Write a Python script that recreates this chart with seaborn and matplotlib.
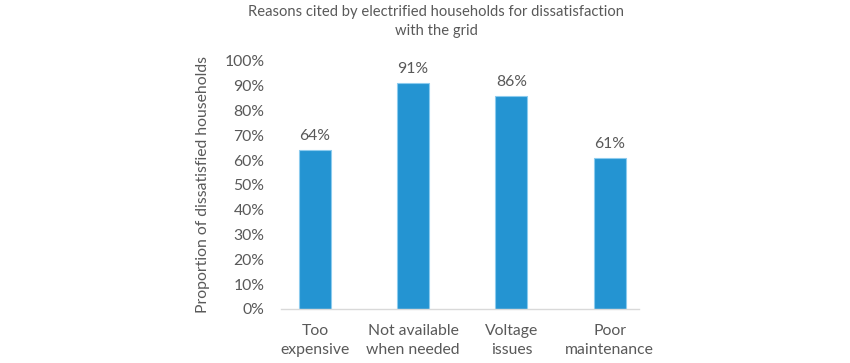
import pandas as pd
import matplotlib.pyplot as plt
import seaborn as sns
from matplotlib.ticker import PercentFormatter

# Data
reasons = ['Too\nexpensive', 'Not available\nwhen needed', 'Voltage\nissues', 'Poor\nmaintenance']
share = [0.64, 0.91, 0.86, 0.61]
value_labels = ['64%', '91%', '86%', '61%']

title = 'Reasons cited by electrified households for dissatisfaction\nwith the grid'
ylabel = 'Proportion of dissatisfied households'

grey = '#595959'
bar_color = '#2494D2'

sns.set_theme(style='white')
plt.rcParams['font.family'] = ['Lato', 'DejaVu Sans']

df = pd.DataFrame({'reason': reasons, 'share': share})

fig = plt.figure(figsize=(8.5, 3.63), dpi=100)
ax = fig.add_axes([0.3306, 0.1488, 0.4212, 0.6832])

sns.barplot(data=df, x='reason', y='share', ax=ax, color=bar_color,
            width=0.325, saturation=1, edgecolor='#8CCBEE', linewidth=0.8)

ax.set_xlim(-0.346, 3.30)
ax.set_ylim(0, 1.0)
ax.set_yticks([i / 10 for i in range(11)])
ax.yaxis.set_major_formatter(PercentFormatter(1.0, decimals=0))
ax.tick_params(axis='both', colors=grey, labelsize=11.3, length=0)
ax.tick_params(axis='y', pad=12)
ax.tick_params(axis='x', pad=11)
for t in ax.get_xticklabels():
    t.set_linespacing(1.45)

for s in ['top', 'right', 'left']:
    ax.spines[s].set_visible(False)
ax.spines['bottom'].set_color('#D9D9D9')
ax.spines['bottom'].set_linewidth(1)

for i, lab in enumerate(value_labels):
    ax.annotate(lab, (i, share[i]), xytext=(0, 5), textcoords='offset points',
                ha='center', va='bottom', color=grey, fontsize=11.3)

ax.set_xlabel('')
ax.set_ylabel(ylabel, color=grey, fontsize=11.3, labelpad=10)
fig.text(0.513, 0.985, title, ha='center', va='top', color=grey, fontsize=10.6,
         linespacing=1.45)

fig.savefig('out.png', dpi=100)
plt.close(fig)
